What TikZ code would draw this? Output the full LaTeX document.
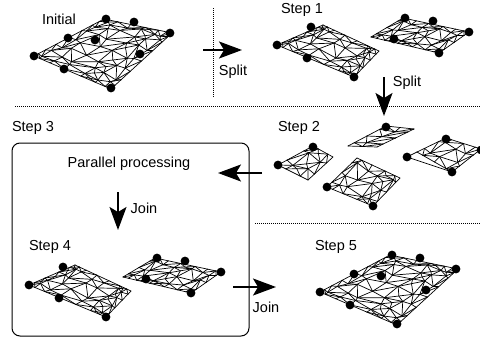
\documentclass[tikz,border=0pt]{standalone}
\usepackage{fontspec}
\setmainfont{Liberation Sans}
\usetikzlibrary{calc,arrows.meta}
\tikzset{
  mesh/.style={line width=0.7pt, line join=round, line cap=round},
  dotline/.style={line width=0.8pt, dash pattern=on 0.8pt off 1.2pt},
  bigarrow/.style={line width=1.6pt, -{Stealth[length=23pt,width=17pt,inset=5pt]}},
  lbl/.style={font=\fontsize{14.5}{17}\selectfont, inner sep=0pt},
  frame/.style={line width=1pt, rounded corners=8pt},
}
% quad mesh on corners (qA),(qB),(qC),(qD); #1 = cells along A->B, #2 = cells along A->D, #3 = seed
\newcommand\meshq[3]{%
  \foreach \i in {0,...,#1}{%
    \foreach \j in {0,...,#2}{%
      \pgfmathsetmacro\mqin{(\i>0)*(\i<#1)*(\j>0)*(\j<#2)}%
      \pgfmathsetmacro\mqs{\i/#1}%
      \pgfmathsetmacro\mqt{\j/#2}%
      \pgfmathsetmacro\mqu{\mqs-0.085*sin(360*\mqs)+\mqin*0.22/#1*sin(\i*137+\j*251+#3*71)}%
      \pgfmathsetmacro\mqv{\mqt-0.085*sin(360*\mqt)+\mqin*0.22/#2*cos(\i*97+\j*173+#3*53)}%
      \coordinate (mt1) at ($(qA)!\mqu!(qB)$);%
      \coordinate (mt2) at ($(qD)!\mqu!(qC)$);%
      \coordinate (m-\i-\j) at ($(mt1)!\mqv!(mt2)$);%
    }%
  }%
  \foreach \i in {0,...,#1}{%
    \foreach \j in {1,...,#2}{%
      \pgfmathtruncatemacro\jm{\j-1}%
      \draw[mesh] (m-\i-\jm) -- (m-\i-\j);%
    }%
  }%
  \foreach \j in {0,...,#2}{%
    \foreach \i in {1,...,#1}{%
      \pgfmathtruncatemacro\im{\i-1}%
      \draw[mesh] (m-\im-\j) -- (m-\i-\j);%
    }%
  }%
  \foreach \i in {1,...,#1}{%
    \foreach \j in {1,...,#2}{%
      \pgfmathtruncatemacro\im{\i-1}%
      \pgfmathtruncatemacro\jm{\j-1}%
      \pgfmathtruncatemacro\dd{mod(\i*5+\j*3+#3,5)}%
      \ifnum\dd<2
        \draw[mesh] (m-\im-\jm) -- (m-\i-\j);%
      \else
        \ifnum\dd<4
          \draw[mesh] (m-\i-\jm) -- (m-\im-\j);%
        \else
          \draw[mesh] (m-\im-\jm) -- (m-\i-\j);%
          \draw[mesh] (m-\i-\jm) -- ($(m-\im-\jm)!.5!(m-\i-\j)$) -- (m-\im-\j);%
        \fi
      \fi
    }%
  }%
}
\newcommand\dotsat[1]{\foreach \x/\y in {#1} \fill (\x,\y) circle[radius=4.4pt];}
% whole mesh (initial coordinates)
\newcommand\pieceW{%
  \coordinate (qA) at (34,56); \coordinate (qB) at (104,19);
  \coordinate (qC) at (172,33); \coordinate (qD) at (111,89);
  \meshq{8}{7}{4}%
  \dotsat{34/56,68/38,106/19,134/22,170/33,95/40,140/54,64/69,111/88}%
}
% left half of the mesh (initial coordinates)
\newcommand\pieceL{%
  \coordinate (qA) at (34,56); \coordinate (qB) at (80,36);
  \coordinate (qC) at (136,62); \coordinate (qD) at (111,88);
  \meshq{5}{7}{11}%
  \dotsat{34/56,68/38,64/69,111/88}%
}
% right half of the mesh (initial coordinates)
\newcommand\pieceR{%
  \coordinate (qA) at (72,38); \coordinate (qB) at (104,19);
  \coordinate (qC) at (170,33); \coordinate (qD) at (140,54);
  \meshq{4}{7}{7}%
  \dotsat{106/19,134/22,170/33,95/40,140/54}%
}
\begin{document}
\begin{tikzpicture}[x=1pt,y=-1pt]
\useasboundingbox (0,0) rectangle (480,340);

% ---------- Initial ----------
\node[lbl] (tInit) at (59,19) {Initial};
\pieceW

% ---------- Step 1 ----------
\node[lbl] (tS1) at (302,10) {Step 1};
\begin{scope}[shift={(243,-11)}] \pieceL \end{scope}
\begin{scope}[shift={(299,-1)}] \pieceR \end{scope}

% separators
\coordinate (v1) at (213,8); \coordinate (v2) at (213,97);
\draw[dotline] (v1) -- (v2);
\coordinate (h1) at (15,106); \coordinate (h2) at (480,106);
\draw[dotline] (h1) -- (h2);
\coordinate (h3) at (255,223); \coordinate (h4) at (480,223);
\draw[dotline] (h3) -- (h4);

% arrow Initial -> Step 1
\coordinate (a1s) at (203,50); \coordinate (a1e) at (242,50);
\draw[bigarrow] (a1s) -- (a1e);
\node[lbl] (tSplit1) at (233,72) {Split};

% arrow Step 1 -> Step 2
\coordinate (a2s) at (384,77); \coordinate (a2e) at (384,116);
\draw[bigarrow] (a2s) -- (a2e);
\node[lbl] (tSplit2) at (407,83) {Split};

% ---------- Step 2 ----------
\node[lbl] (tS2) at (299,128) {Step 2};
\coordinate (qA) at (278,165); \coordinate (qB) at (313,146);
\coordinate (qC) at (333,157); \coordinate (qD) at (308,180);
\meshq{3}{3}{3}
\dotsat{278/165,313/147}
\coordinate (qA) at (348,146); \coordinate (qB) at (386,126);
\coordinate (qC) at (414,129); \coordinate (qD) at (377,147);
\meshq{4}{2}{5}
\dotsat{386/127}
\coordinate (qA) at (327,187); \coordinate (qB) at (357,158);
\coordinate (qC) at (400,178); \coordinate (qD) at (373,206);
\meshq{4}{5}{2}
\dotsat{327/187,373/206}
\coordinate (qA) at (417,152); \coordinate (qB) at (446,138);
\coordinate (qC) at (481,149); \coordinate (qD) at (452,172);
\meshq{3}{4}{9}
\coordinate (p4dot) at (407,157);
\draw[mesh] (qA) -- (p4dot) -- (qD);
\dotsat{407/157,446/139,452/172,481/150}

% arrow Step 2 -> Step 3
\coordinate (a3s) at (262,173); \coordinate (a3e) at (218,173);
\draw[bigarrow] (a3s) -- (a3e);

% ---------- Step 3 box ----------
\node[lbl] (tS3) at (33,128) {Step 3};
\coordinate (bx1) at (12,143); \coordinate (bx2) at (249,336);
\draw[frame] (bx1) rectangle (bx2);
\node[lbl] (tPar) at (129,164) {Parallel processing};
\coordinate (a4s) at (118,192); \coordinate (a4e) at (118,230);
\draw[bigarrow] (a4s) -- (a4e);
\node[lbl] (tJoin1) at (144,208) {Join};

% ---------- Step 4 ----------
\node[lbl] (tS4) at (50,247) {Step 4};
\begin{scope}[shift={(-5,229)}] \pieceL \end{scope}
\begin{scope}[shift={(51,239)}] \pieceR \end{scope}

% arrow Step 4 -> Step 5
\coordinate (a5s) at (233,287); \coordinate (a5e) at (276,287);
\draw[bigarrow] (a5s) -- (a5e);
\node[lbl] (tJoin2) at (266,307) {Join};

% ---------- Step 5 ----------
\node[lbl] (tS5) at (336,247) {Step 5};
\begin{scope}[shift={(286,236)}] \pieceW \end{scope}
\end{tikzpicture}
\end{document}
